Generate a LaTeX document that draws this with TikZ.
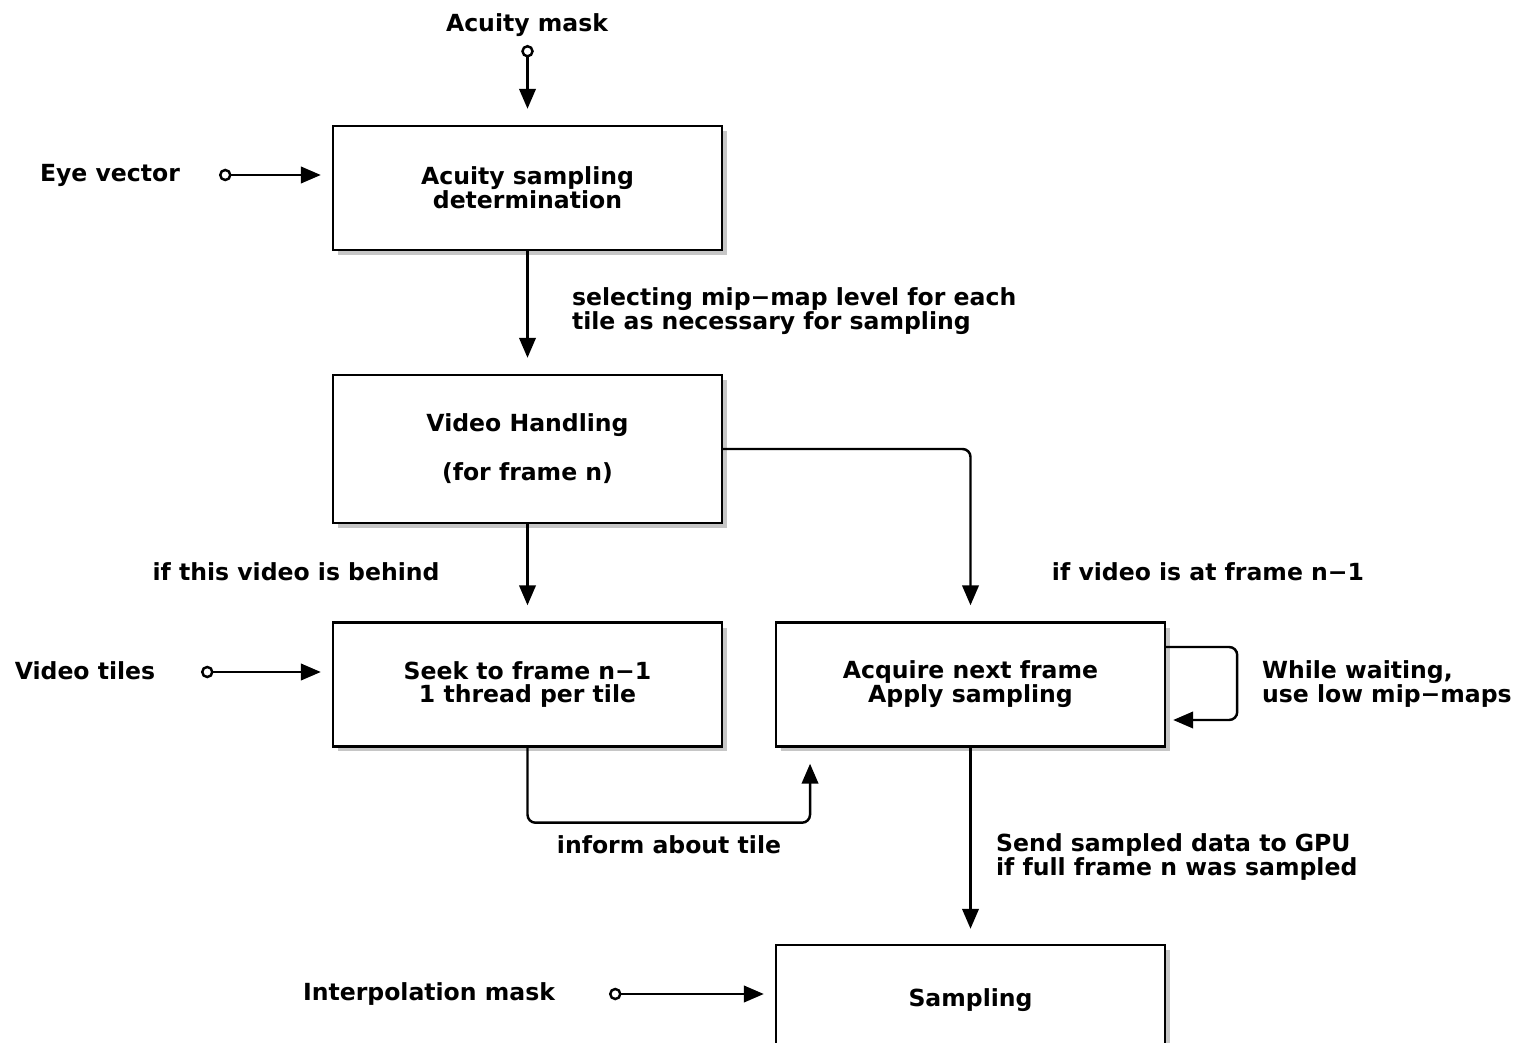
\documentclass[tikz,border=0pt]{standalone}
\usepackage{fontspec}
\setmainfont{DejaVu Sans}
\usetikzlibrary{arrows.meta, shadows}
\tikzset{>={Triangle[length=4mm,width=3.3mm]}}
\tikzset{
  stage/.style={draw, fill=white, minimum width=7.78cm, minimum height=2.48cm,
    drop shadow={shadow xshift=1mm, shadow yshift=-1mm, opacity=0.45}},
  feed/.style={{Circle[open,length=2.5mm,width=2.5mm]}->, shorten >=0.22cm},
}

\begin{document}
\begin{tikzpicture}[x=0.02cm, y=-0.02cm, ->, line width=1.4pt, align=center,
    font=\bfseries\fontsize{13.4}{13.6}\selectfont]
      \useasboundingbox (0, 0) rectangle (1524, 1043);
      \node[stage] (acuity_sampling) at (527.5, 188) {Acuity sampling \\ determination};
      \node[stage, minimum height=2.96cm] (video_handling) at (527.5, 449) {Video Handling \\[0.5cm] (for frame n)};
      \node[stage] (seek_frame) at (527.5, 684.5) {Seek to frame n−1 \\ 1 thread per tile};
      \node[stage] (acquire_frame) at (970.5, 684.5) {Acquire next frame \\ Apply sampling};
      \node[stage, minimum height=2.2cm] (sampling_box) at (970.5, 1000) {Sampling};
      % inputs
      \node (acuity_mask) at (527, 25) {Acuity mask};
      \node (eye_vector) at (110, 175) {Eye vector};
      \node (video_tiles) at (85, 671) {Video tiles};
      \node (interp_mask) at (429, 994) {Interpolation mask};
      \coordinate (acuity_in) at (527.5, 45);
      \coordinate (eye_in) at (219, 175);
      \coordinate (tiles_in) at (201, 672);
      \coordinate (interp_in) at (609, 994);
      % edge labels
      \node[anchor=west, align=left] (select_label) at (565, 311) {selecting mip−map level for each \\ tile as necessary for sampling};
      \node (behind_label) at (296, 572) {if this video is behind};
      \node (atframe_label) at (1208, 572) {if video is at frame n−1};
      \node[anchor=west, align=left] (waiting_label) at (1255, 684) {While waiting, \\ use low mip−maps};
      \node (inform_label) at (669, 845) {inform about tile};
      \node[anchor=west, align=left] (send_label) at (989, 857) {Send sampled data to GPU \\ if full frame n was sampled};
      \draw[feed, shorten >=0.32cm] (acuity_in) -- (acuity_sampling);
      \draw[feed] (eye_in) -- (eye_in -| acuity_sampling.west);
      \draw[feed] (tiles_in) -- (tiles_in -| seek_frame.west);
      \draw[feed] (interp_in) -- (interp_in -| sampling_box.west);
      \draw[shorten >=0.32cm] (acuity_sampling) -- (video_handling);
      \draw[shorten >=0.32cm] (video_handling) -- (seek_frame);
      \draw[rounded corners=1.6mm, shorten >=0.32cm] (video_handling.east) -| (acquire_frame.north);
      \draw[rounded corners=1.6mm, shorten >=0.32cm] (seek_frame.south) -- ++(0, 75) -| ([xshift=-3.21cm]acquire_frame.south);
      \draw[rounded corners=1.6mm, shorten >=0.14cm] ([yshift=0.75cm]acquire_frame.east) -- ++(71, 0) |- ([yshift=-0.71cm]acquire_frame.east);
      \draw[shorten >=0.3cm] (acquire_frame) -- (sampling_box);
    \end{tikzpicture}
\end{document}
